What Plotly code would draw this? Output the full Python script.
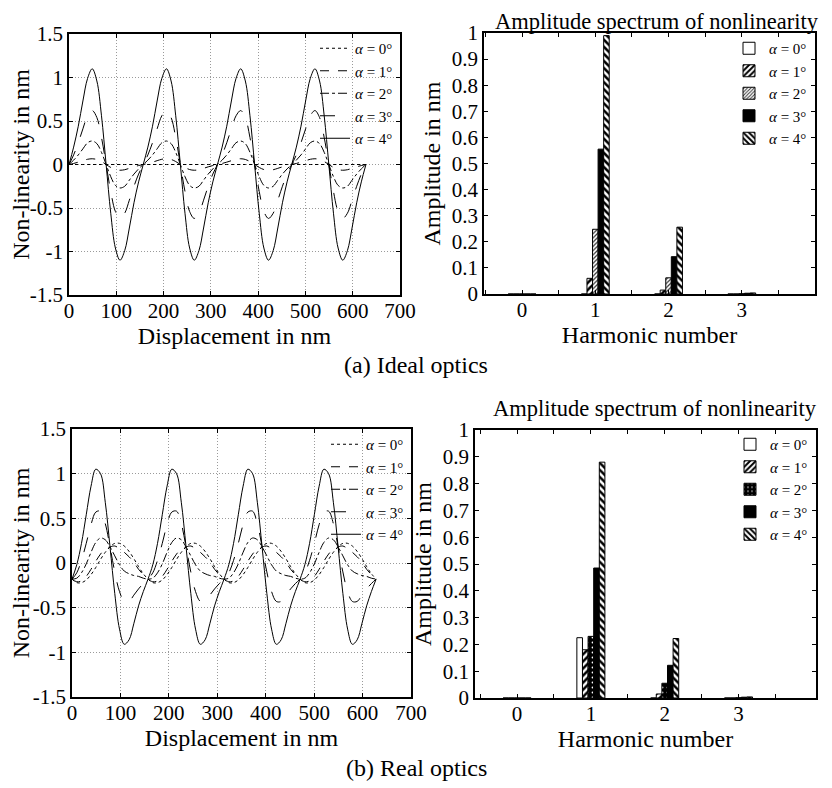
import plotly.graph_objects as go

# ---------------- data ----------------
X_NM = [0, 9.8, 19.6, 29.4, 39.3, 49.1, 58.9, 68.7, 78.5, 88.3, 98.1, 107.9, 117.8, 127.6, 137.4, 147.2,
        157, 166.8, 176.6, 186.4, 196.3, 206.1, 215.9, 225.7, 235.5, 245.3, 255.1, 264.9, 274.8, 284.6, 294.4, 304.2,
        314, 323.8, 333.6, 343.4, 353.3, 363.1, 372.9, 382.7, 392.5, 402.3, 412.1, 421.9, 431.8, 441.6, 451.4, 461.2,
        471, 480.8, 490.6, 500.4, 510.3, 520.1, 529.9, 539.7, 549.5, 559.3, 569.1, 578.9, 588.8, 598.6, 608.4, 618.2,
        628]

IDEAL_A0 = [0] * 65
IDEAL_A1 = [0, 0.012, 0.027, 0.044, 0.060, 0.066, 0.058, 0.034, 0, -0.034, -0.058, -0.066, -0.060, -0.044, -0.027, -0.012,
            0, 0.012, 0.027, 0.044, 0.060, 0.066, 0.058, 0.034, 0, -0.034, -0.058, -0.066, -0.060, -0.044, -0.027, -0.012,
            0, 0.012, 0.027, 0.044, 0.060, 0.066, 0.058, 0.034, 0, -0.034, -0.058, -0.066, -0.060, -0.044, -0.027, -0.012,
            0, 0.012, 0.027, 0.044, 0.060, 0.066, 0.058, 0.034, 0, -0.034, -0.058, -0.066, -0.060, -0.044, -0.027, -0.012,
            0]
IDEAL_A2 = [0, 0.05, 0.11, 0.18, 0.25, 0.27, 0.24, 0.14, 0, -0.14, -0.24, -0.27, -0.25, -0.18, -0.11, -0.05,
            0, 0.05, 0.11, 0.18, 0.25, 0.27, 0.24, 0.14, 0, -0.14, -0.24, -0.27, -0.25, -0.18, -0.11, -0.05,
            0, 0.05, 0.11, 0.18, 0.25, 0.27, 0.24, 0.14, 0, -0.14, -0.24, -0.27, -0.25, -0.18, -0.11, -0.05,
            0, 0.05, 0.11, 0.18, 0.25, 0.27, 0.24, 0.14, 0, -0.14, -0.24, -0.27, -0.25, -0.18, -0.11, -0.05,
            0]
IDEAL_A3 = [0, 0.11, 0.25, 0.41, 0.56, 0.62, 0.54, 0.31, 0, -0.31, -0.54, -0.62, -0.56, -0.41, -0.25, -0.11,
            0, 0.11, 0.25, 0.41, 0.56, 0.62, 0.54, 0.31, 0, -0.31, -0.54, -0.62, -0.56, -0.41, -0.25, -0.11,
            0, 0.11, 0.25, 0.41, 0.56, 0.62, 0.54, 0.31, 0, -0.31, -0.54, -0.62, -0.56, -0.41, -0.25, -0.11,
            0, 0.11, 0.25, 0.41, 0.56, 0.62, 0.54, 0.31, 0, -0.31, -0.54, -0.62, -0.56, -0.41, -0.25, -0.11,
            0]
IDEAL_A4 = [0, 0.20, 0.44, 0.73, 0.99, 1.10, 0.96, 0.56, 0, -0.56, -0.96, -1.10, -0.99, -0.73, -0.44, -0.20,
            0, 0.20, 0.44, 0.73, 0.99, 1.10, 0.96, 0.56, 0, -0.56, -0.96, -1.10, -0.99, -0.73, -0.44, -0.20,
            0, 0.20, 0.44, 0.73, 0.99, 1.10, 0.96, 0.56, 0, -0.56, -0.96, -1.10, -0.99, -0.73, -0.44, -0.20,
            0, 0.20, 0.44, 0.73, 0.99, 1.10, 0.96, 0.56, 0, -0.56, -0.96, -1.10, -0.99, -0.73, -0.44, -0.20,
            0]

REAL_A0 = [-0.18, -0.22, -0.22, -0.19, -0.13, -0.05, 0.04, 0.12, 0.18, 0.22, 0.22, 0.19, 0.13, 0.05, -0.04, -0.12,
           -0.18, -0.22, -0.22, -0.19, -0.13, -0.05, 0.04, 0.12, 0.18, 0.22, 0.22, 0.19, 0.13, 0.05, -0.04, -0.12,
           -0.18, -0.22, -0.22, -0.19, -0.13, -0.05, 0.04, 0.12, 0.18, 0.22, 0.22, 0.19, 0.13, 0.05, -0.04, -0.12,
           -0.18, -0.22, -0.22, -0.19, -0.13, -0.05, 0.04, 0.12, 0.18, 0.22, 0.22, 0.19, 0.13, 0.05, -0.04, -0.12,
           -0.18]
REAL_A1 = [-0.18, -0.21, -0.20, -0.15, -0.07, 0.02, 0.10, 0.16, 0.18, 0.19, 0.16, 0.12, 0.07, 0.01, -0.07, -0.13,
           -0.18, -0.21, -0.20, -0.15, -0.07, 0.02, 0.10, 0.16, 0.18, 0.19, 0.16, 0.12, 0.07, 0.01, -0.07, -0.13,
           -0.18, -0.21, -0.20, -0.15, -0.07, 0.02, 0.10, 0.16, 0.18, 0.19, 0.16, 0.12, 0.07, 0.01, -0.07, -0.13,
           -0.18, -0.21, -0.20, -0.15, -0.07, 0.02, 0.10, 0.16, 0.18, 0.19, 0.16, 0.12, 0.07, 0.01, -0.07, -0.13,
           -0.18]
REAL_A2 = [-0.18, -0.17, -0.11, -0.01, 0.12, 0.23, 0.28, 0.26, 0.18, 0.08, -0.02, -0.09, -0.12, -0.14, -0.15, -0.17,
           -0.18, -0.17, -0.11, -0.01, 0.12, 0.23, 0.28, 0.26, 0.18, 0.08, -0.02, -0.09, -0.12, -0.14, -0.15, -0.17,
           -0.18, -0.17, -0.11, -0.01, 0.12, 0.23, 0.28, 0.26, 0.18, 0.08, -0.02, -0.09, -0.12, -0.14, -0.15, -0.17,
           -0.18, -0.17, -0.11, -0.01, 0.12, 0.23, 0.28, 0.26, 0.18, 0.08, -0.02, -0.09, -0.12, -0.14, -0.15, -0.17,
           -0.18]
REAL_A3 = [-0.18, -0.11, 0.03, 0.22, 0.43, 0.57, 0.58, 0.44, 0.18, -0.10, -0.32, -0.43, -0.43, -0.36, -0.29, -0.23,
           -0.18, -0.11, 0.03, 0.22, 0.43, 0.57, 0.58, 0.44, 0.18, -0.10, -0.32, -0.43, -0.43, -0.36, -0.29, -0.23,
           -0.18, -0.11, 0.03, 0.22, 0.43, 0.57, 0.58, 0.44, 0.18, -0.10, -0.32, -0.43, -0.43, -0.36, -0.29, -0.23,
           -0.18, -0.11, 0.03, 0.22, 0.43, 0.57, 0.58, 0.44, 0.18, -0.10, -0.32, -0.43, -0.43, -0.36, -0.29, -0.23,
           -0.18]
REAL_A4 = [-0.18, -0.02, 0.22, 0.54, 0.86, 1.05, 1.00, 0.68, 0.18, -0.34, -0.74, -0.91, -0.86, -0.68, -0.48, -0.32,
           -0.18, -0.02, 0.22, 0.54, 0.86, 1.05, 1.00, 0.68, 0.18, -0.34, -0.74, -0.91, -0.86, -0.68, -0.48, -0.32,
           -0.18, -0.02, 0.22, 0.54, 0.86, 1.05, 1.00, 0.68, 0.18, -0.34, -0.74, -0.91, -0.86, -0.68, -0.48, -0.32,
           -0.18, -0.02, 0.22, 0.54, 0.86, 1.05, 1.00, 0.68, 0.18, -0.34, -0.74, -0.91, -0.86, -0.68, -0.48, -0.32,
           -0.18]

HARMONICS = [0, 1, 2, 3]
IDEAL_SPEC_A0 = [0, 0, 0, 0]
IDEAL_SPEC_A1 = [0, 0.06, 0.015, 0]
IDEAL_SPEC_A2 = [0, 0.248, 0.062, 0.001]
IDEAL_SPEC_A3 = [0, 0.555, 0.143, 0.003]
IDEAL_SPEC_A4 = [0, 0.99, 0.256, 0.004]
REAL_SPEC_A0 = [0, 0.225, 0.0, 0]
REAL_SPEC_A1 = [0, 0.18, 0.015, 0]
REAL_SPEC_A2 = [0, 0.23, 0.055, 0.001]
REAL_SPEC_A3 = [0, 0.485, 0.122, 0.003]
REAL_SPEC_A4 = [0, 0.88, 0.222, 0.004]

SERIES_NAMES = ["<i>α</i> = 0°", "<i>α</i> = 1°", "<i>α</i> = 2°", "<i>α</i> = 3°", "<i>α</i> = 4°"]
DISP_TICKS = [0, 100, 200, 300, 400, 500, 600, 700]
DISP_TICK_LABELS = ["0", "100", "200", "300", "400", "500", "600", "700"]
NL_TICKS = [-1.5, -1, -0.5, 0, 0.5, 1, 1.5]
NL_TICK_LABELS = ["-1.5", "-1", "-0.5", "0", "0.5", "1", "1.5"]
AMP_TICKS = [0, 0.1, 0.2, 0.3, 0.4, 0.5, 0.6, 0.7, 0.8, 0.9, 1]
AMP_TICK_LABELS = ["0", "0.1", "0.2", "0.3", "0.4", "0.5", "0.6", "0.7", "0.8", "0.9", "1"]
HARM_TICK_LABELS = ["0", "1", "2", "3"]
HARM_MINOR_TICKS = [-0.5, 0.5, 1.5, 2.5, 3.5]

# ---------------- styles ----------------
FONT = "Liberation Serif"
W, H = 832, 788
PAGE_PAD = 8  # default body margin of the html page
LINE_DASHES = ["dot", "dash", "dashdot", "longdash", "solid"]


def px(x):
    return (x - PAGE_PAD) / W


def py(y):
    return 1 - (y - PAGE_PAD) / H


fig = go.Figure()

ideal_lines = [IDEAL_A0, IDEAL_A1, IDEAL_A2, IDEAL_A3, IDEAL_A4]
real_lines = [REAL_A0, REAL_A1, REAL_A2, REAL_A3, REAL_A4]
for i, ys in enumerate(ideal_lines):
    fig.add_trace(go.Scatter(x=X_NM, y=ys, mode="lines", name=SERIES_NAMES[i],
                             line=dict(color="black", width=1, dash=LINE_DASHES[i], shape="spline"),
                             xaxis="x", yaxis="y", legend="legend"))
for i, ys in enumerate(real_lines):
    fig.add_trace(go.Scatter(x=X_NM, y=ys, mode="lines", name=SERIES_NAMES[i],
                             line=dict(color="black", width=1, dash=LINE_DASHES[i], shape="spline"),
                             xaxis="x3", yaxis="y3", legend="legend3"))

ideal_spec = [IDEAL_SPEC_A0, IDEAL_SPEC_A1, IDEAL_SPEC_A2, IDEAL_SPEC_A3, IDEAL_SPEC_A4]
real_spec = [REAL_SPEC_A0, REAL_SPEC_A1, REAL_SPEC_A2, REAL_SPEC_A3, REAL_SPEC_A4]

ideal_markers = [
    dict(color="white", line=dict(color="black", width=1)),
    dict(color="white", line=dict(color="black", width=1),
         pattern=dict(shape="/", fgcolor="black", bgcolor="white", size=5, solidity=0.5, fillmode="replace")),
    dict(color="white", line=dict(color="black", width=1),
         pattern=dict(shape="/", fgcolor="#333333", bgcolor="white", size=3, solidity=0.4, fillmode="replace")),
    dict(color="black", line=dict(color="black", width=1)),
    dict(color="white", line=dict(color="black", width=1),
         pattern=dict(shape="\\", fgcolor="black", bgcolor="white", size=5, solidity=0.5, fillmode="replace")),
]
real_markers = [
    dict(color="white", line=dict(color="black", width=1)),
    dict(color="white", line=dict(color="black", width=1),
         pattern=dict(shape="/", fgcolor="black", bgcolor="white", size=5, solidity=0.5, fillmode="replace")),
    dict(color="black", line=dict(color="black", width=1),
         pattern=dict(shape=".", fgcolor="white", bgcolor="black", size=5, solidity=0.1, fillmode="replace")),
    dict(color="black", line=dict(color="black", width=1)),
    dict(color="white", line=dict(color="black", width=1),
         pattern=dict(shape="\\", fgcolor="black", bgcolor="white", size=5, solidity=0.5, fillmode="replace")),
]
for i, vals in enumerate(ideal_spec):
    fig.add_trace(go.Bar(x=HARMONICS, y=vals, name=SERIES_NAMES[i], marker=ideal_markers[i],
                         xaxis="x2", yaxis="y2", legend="legend2"))
for i, vals in enumerate(real_spec):
    fig.add_trace(go.Bar(x=HARMONICS, y=vals, name=SERIES_NAMES[i], marker=real_markers[i],
                         xaxis="x4", yaxis="y4", legend="legend4"))

tickfont = dict(family=FONT, size=21, color="black")
titlefont = dict(family=FONT, size=24, color="black")
GRID = dict(showgrid=True, gridcolor="#9a9a9a", griddash="1px,2px", gridwidth=1)
axis_common = dict(showline=True, linecolor="black", linewidth=1.5, mirror="ticks", ticks="inside",
                   ticklen=4, tickcolor="black", zeroline=False, tickfont=tickfont, automargin=False)

disp_x = dict(axis_common, range=[0, 700], tickmode="array", tickvals=DISP_TICKS, ticktext=DISP_TICK_LABELS,
              ticklabelstandoff=-4, title=dict(text="Displacement in nm", font=titlefont, standoff=0), **GRID)
nl_y = dict(axis_common, range=[-1.5, 1.5], tickmode="array", tickvals=NL_TICKS, ticktext=NL_TICK_LABELS,
            title=dict(text="Non-linearity in nm", font=titlefont, standoff=4), **GRID)
harm_x = dict(axis_common, tickmode="array", tickvals=HARMONICS, ticktext=HARM_TICK_LABELS, showgrid=False,
              minor=dict(tickmode="array", tickvals=HARM_MINOR_TICKS, ticks="inside", ticklen=4,
                         tickcolor="black", showgrid=False),
              ticklabelstandoff=-4,
              title=dict(text="Harmonic number", font=titlefont, standoff=0))
amp_y = dict(axis_common, range=[0, 1], tickmode="array", tickvals=AMP_TICKS, ticktext=AMP_TICK_LABELS,
             showgrid=False, title=dict(text="Amplitude in nm", font=titlefont, standoff=4))

legend_common = dict(font=dict(family=FONT, size=15, color="black"), bgcolor="rgba(0,0,0,0)",
                     xanchor="right", yanchor="top", tracegroupgap=0, itemwidth=30)

TITLE_FONT = dict(family=FONT, size=22.5, color="black")
CAPTION_FONT = dict(family=FONT, size=24, color="black")

fig.update_layout(
    width=W, height=H,
    margin=dict(l=0, r=0, t=0, b=0),
    paper_bgcolor="white", plot_bgcolor="white",
    font=dict(family=FONT, color="black"),
    barmode="group", bargap=0.62, bargroupgap=0,
    xaxis=dict(disp_x, domain=[px(69), px(400)], anchor="y"),
    yaxis=dict(nl_y, domain=[py(295), py(34)], anchor="x"),
    xaxis2=dict(harm_x, range=[-0.52, 4.0], domain=[px(484), px(815)], anchor="y2"),
    yaxis2=dict(amp_y, domain=[py(294), py(33)], anchor="x2"),
    xaxis3=dict(disp_x, domain=[px(72), px(411)], anchor="y3"),
    yaxis3=dict(nl_y, domain=[py(697), py(429)], anchor="x3"),
    xaxis4=dict(harm_x, range=[-0.57, 4.05], domain=[px(475), px(816)], anchor="y4"),
    yaxis4=dict(amp_y, domain=[py(698), py(430)], anchor="x4"),
    legend=dict(legend_common, x=px(398), y=py(32)),
    legend2=dict(legend_common, x=px(812), y=py(32)),
    legend3=dict(legend_common, x=px(409), y=py(428)),
    legend4=dict(legend_common, x=px(813), y=py(428)),
    showlegend=True,
    annotations=[
        dict(text="Amplitude spectrum of nonlinearity", x=px(657), y=py(8), xref="paper", yref="paper",
             showarrow=False, font=TITLE_FONT, xanchor="center", yanchor="top", borderpad=0),
        dict(text="Amplitude spectrum of nonlinearity", x=px(655), y=py(408), xref="paper", yref="paper",
             showarrow=False, font=TITLE_FONT, xanchor="center", yanchor="middle"),
        dict(text="(a) Ideal optics", x=px(416), y=py(365), xref="paper", yref="paper",
             showarrow=False, font=CAPTION_FONT, xanchor="center", yanchor="middle"),
        dict(text="(b) Real optics", x=px(416), y=py(768), xref="paper", yref="paper",
             showarrow=False, font=CAPTION_FONT, xanchor="center", yanchor="middle"),
    ],
)

fig.write_html("out.html")
